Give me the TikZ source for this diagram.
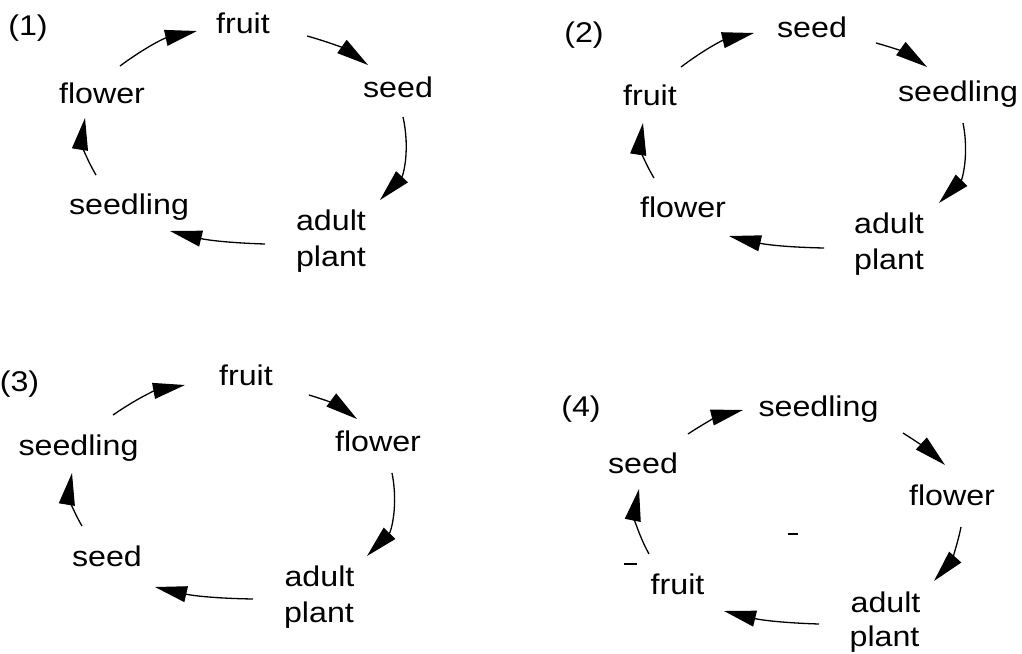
\documentclass[tikz,border=0pt]{standalone}
\usepackage{fontspec}
\setmainfont{Liberation Sans}[FakeStretch=1.13]
\usetikzlibrary{arrows.meta}
\begin{document}
\begin{tikzpicture}[x=1pt,y=1pt,
  lbl/.style={anchor=base, inner sep=0pt, font=\fontsize{28.5}{34}\selectfont},
  cyc/.style={line width=1.3pt, -{Triangle[length=32pt,width=16pt]}},
  blot/.style={line width=1.6pt}]
\useasboundingbox (0,0) rectangle (1022,-653);
% ---------- (1)
\node[lbl] (n1) at (28,-35) {(1)};
\node[lbl] (fruitA) at (243,-33) {fruit};
\node[lbl] (seedA) at (398,-97) {seed};
\node[lbl] (flowerA) at (102,-103) {flower};
\node[lbl] (seedlingA) at (129,-214) {seedling};
\node[lbl] (adultA) at (331,-230) {adult};
\node[lbl] (plantA) at (331,-266) {plant};
\coordinate (a1s) at (120,-66);  \coordinate (a1e) at (197,-31);
\coordinate (a2s) at (307,-36);  \coordinate (a2e) at (368,-65);
\coordinate (a3s) at (403,-117); \coordinate (a3e) at (380,-200);
\coordinate (a4s) at (265,-244); \coordinate (a4e) at (170,-231);
\coordinate (a5s) at (96,-175);  \coordinate (a5e) at (85,-118);
\draw[cyc] (a1s) to[bend left=12] (a1e);
\draw[cyc] (a2s) to[bend left=10] (a2e);
\draw[cyc] (a3s) to[bend left=28] (a3e);
\draw[cyc] (a4s) to[bend left=6] (a4e);
\draw[cyc] (a5s) to[bend left=20] (a5e);
% ---------- (2)
\node[lbl] (n2) at (584,-42) {(2)};
\node[lbl] (seedB) at (812,-37) {seed};
\node[lbl] (seedlingB) at (958,-101) {seedling};
\node[lbl] (fruitB) at (650,-105) {fruit};
\node[lbl] (flowerB) at (683,-217) {flower};
\node[lbl] (adultB) at (889,-233) {adult};
\node[lbl] (plantB) at (889,-269) {plant};
\coordinate (b1s) at (681,-67);  \coordinate (b1e) at (754,-33);
\coordinate (b2s) at (876,-43);  \coordinate (b2e) at (927,-67);
\coordinate (b3s) at (963,-123); \coordinate (b3e) at (939,-203);
\coordinate (b4s) at (824,-248); \coordinate (b4e) at (729,-236);
\coordinate (b5s) at (654,-178); \coordinate (b5e) at (643,-123);
\draw[cyc] (b1s) to[bend left=12] (b1e);
\draw[cyc] (b2s) to[bend left=10] (b2e);
\draw[cyc] (b3s) to[bend left=28] (b3e);
\draw[cyc] (b4s) to[bend left=6] (b4e);
\draw[cyc] (b5s) to[bend left=20] (b5e);
% ---------- (3)
\node[lbl] (n3) at (19.5,-391) {(3)};
\node[lbl] (fruitC) at (246,-385) {fruit};
\node[lbl] (flowerC) at (378,-451) {flower};
\node[lbl] (seedlingC) at (78.5,-455) {seedling};
\node[lbl] (seedC) at (107,-566) {seed};
\node[lbl] (adultC) at (319.5,-586) {adult};
\node[lbl] (plantC) at (319,-622) {plant};
\coordinate (c1s) at (113,-415); \coordinate (c1e) at (185,-385);
\coordinate (c2s) at (309,-395); \coordinate (c2e) at (357,-419);
\coordinate (c3s) at (392,-473); \coordinate (c3e) at (367,-556);
\coordinate (c4s) at (253,-599); \coordinate (c4e) at (155,-587);
\coordinate (c5s) at (82,-526);  \coordinate (c5e) at (72,-473);
\draw[cyc] (c1s) to[bend left=12] (c1e);
\draw[cyc] (c2s) to[bend left=10] (c2e);
\draw[cyc] (c3s) to[bend left=28] (c3e);
\draw[cyc] (c4s) to[bend left=6] (c4e);
\draw[cyc] (c5s) to[bend left=20] (c5e);
% ---------- (4)
\node[lbl] (n4) at (581,-416) {(4)};
\node[lbl] (seedlingD) at (818.5,-416) {seedling};
\node[lbl] (seedD) at (643,-473) {seed};
\node[lbl] (flowerD) at (952,-505) {flower};
\node[lbl] (fruitD) at (677.5,-594) {fruit};
\node[lbl] (adultD) at (885.5,-612) {adult};
\node[lbl] (plantD) at (884.5,-646) {plant};
\coordinate (d1s) at (688,-434); \coordinate (d1e) at (743,-410);
\coordinate (d2s) at (903,-433); \coordinate (d2e) at (945,-465);
\coordinate (d3s) at (961,-527); \coordinate (d3e) at (934,-581);
\coordinate (d4s) at (819,-624); \coordinate (d4e) at (724,-611);
\coordinate (d5s) at (649,-554); \coordinate (d5e) at (639,-489);
\draw[cyc] (d1s) to[bend left=10] (d1e);
\draw[cyc] (d2s) to[bend left=5] (d2e);
\draw[cyc] (d3s) to[bend left=15] (d3e);
\draw[cyc] (d4s) to[bend left=6] (d4e);
\draw[cyc] (d5s) to[bend left=20] (d5e);
\coordinate (m1s) at (788,-534); \coordinate (m1e) at (798,-534);
\coordinate (m2s) at (624,-564); \coordinate (m2e) at (637,-564);
\draw[blot] (m1s) -- (m1e);
\draw[blot] (m2s) -- (m2e);
\end{tikzpicture}
\end{document}
